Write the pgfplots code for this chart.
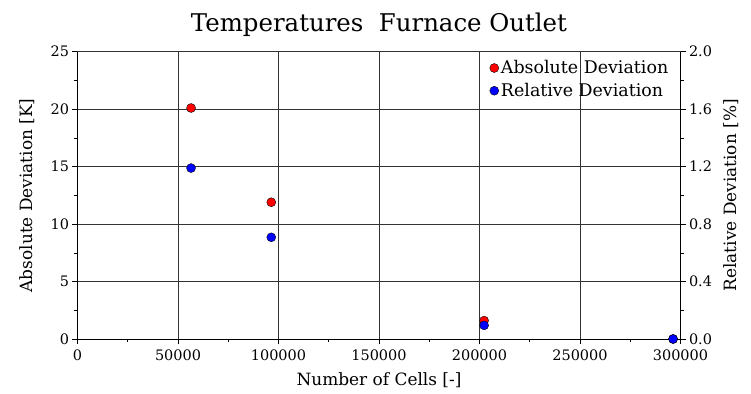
\documentclass[border=0pt]{standalone}
\usepackage{fontspec}
\setmainfont{DejaVu Serif}
\usepackage{pgfplots}
\pgfplotsset{compat=1.18}

\pgfplotsset{
  devstyle/.style={
    scale only axis,
    width=603bp, height=287.3bp,
    xmin=0, xmax=300000,
    tick align=outside,
    major tick length=5bp, minor tick length=3bp,
    tick style={black, line width=0.6pt},
    /pgf/number format/assume math mode=true,
    tick label style={font=\fontsize{14.5}{17}\selectfont},
    label style={font=\fontsize{17}{20}\selectfont},
  },
}

\begin{document}
\begin{tikzpicture}
\begin{axis}[
  devstyle,
  axis x line*=bottom, axis y line*=left,
  ymin=0, ymax=25,
  xtick={0,50000,...,300000},
  minor x tick num=1,
  ytick={0,5,...,25},
  minor y tick num=1,
  scaled x ticks=false,
  xticklabel style={/pgf/number format/fixed, /pgf/number format/1000 sep={}, yshift=-2bp},
  grid=major,
  major grid style={black!80, line width=0.5pt},
  xlabel={Number of Cells [-]},
  ylabel={Absolute Deviation [K]},
  xlabel style={yshift=-5bp},
  ylabel style={yshift=9bp},
  title={Temperatures\ \ Furnace Outlet},
  title style={font=\fontsize{24.5}{28}\selectfont, yshift=6bp},
]
\addplot[only marks, mark=*, mark size=4.5bp, mark options={fill=red, draw=black, line width=0.4pt}]
  coordinates {(56500,20.1) (96400,11.9) (202300,1.6) (296300,0)};
\end{axis}
\begin{axis}[
  devstyle,
  axis x line=none, axis y line*=right,
  ymin=0, ymax=2.0,
  ytick={0,0.4,...,2.0},
  minor y tick num=1,
  yticklabel style={/pgf/number format/fixed, /pgf/number format/fixed zerofill, /pgf/number format/precision=1},
  ylabel={Relative Deviation [\%]},
  ylabel style={yshift=-5bp},
  legend style={draw=none, fill=none, at={(0.985,0.98)}, anchor=north east,
    font=\fontsize{17.5}{20}\selectfont, row sep=4bp, inner sep=1bp,
    /tikz/every even column/.append style={column sep=0pt}},
  legend cell align=left,
  legend image code/.code={\draw[#1] (0.1em,0bp) circle (4.5bp);},
]
\addlegendimage{fill=red, draw=black, line width=0.4pt}
\addlegendentry{Absolute Deviation}
\addplot[only marks, mark=*, mark size=4.5bp, mark options={fill=blue, draw=black, line width=0.4pt}, forget plot]
  coordinates {(56500,1.19) (96400,0.708) (202300,0.095) (296300,0)};
\addlegendimage{fill=blue, draw=black, line width=0.4pt}
\addlegendentry{Relative Deviation}
\end{axis}
\pgfresetboundingbox
\path[use as bounding box] (-77.5bp,-55bp) rectangle (673.5bp,339bp);
\end{tikzpicture}
\end{document}
